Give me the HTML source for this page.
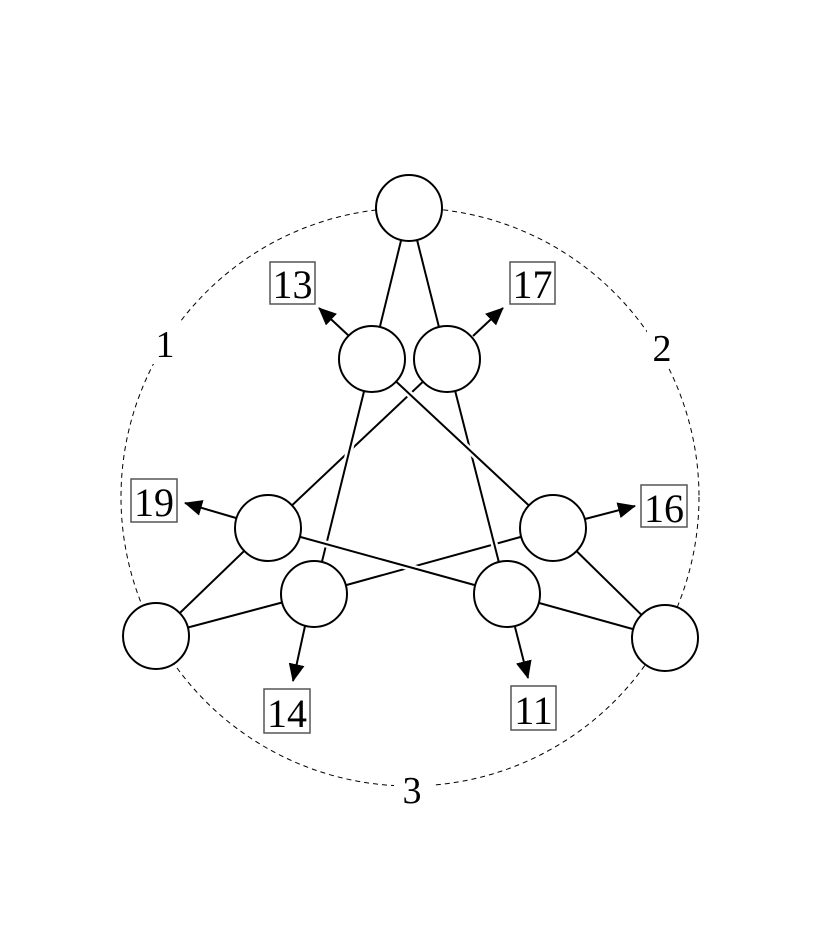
<!DOCTYPE html>
<html><head><style>body{margin:0;background:#fff}svg{display:block}</style></head><body>
<svg width="816" height="949" viewBox="0 0 816 949" xmlns="http://www.w3.org/2000/svg">
<defs><marker id="a" markerWidth="18" markerHeight="16" refX="17" refY="8" orient="auto" markerUnits="userSpaceOnUse" viewBox="0 0 18 16"><path d="M0,0 L18,8 L0,16z" fill="#000"/></marker></defs>
<circle cx="410" cy="497" r="289" fill="none" stroke="#000" stroke-width="1" stroke-dasharray="5,4"/>
<g font-family="Liberation Serif, serif" font-size="38" text-anchor="middle">
<rect x="150" y="322" width="30" height="42" fill="#fff"/><text x="165" y="357">1</text>
<rect x="647" y="326" width="30" height="42" fill="#fff"/><text x="662" y="361">2</text>
<rect x="394" y="768" width="38" height="42" fill="#fff"/><text x="412" y="803">3</text>
</g>
<g stroke-width="2" stroke-linecap="butt">
<g>
<line x1="314" y1="594" x2="553" y2="528" stroke="#fff" stroke-width="7"/><line x1="314" y1="594" x2="553" y2="528" stroke="#000"/>
<line x1="447" y1="359" x2="268" y2="528" stroke="#fff" stroke-width="7"/><line x1="447" y1="359" x2="268" y2="528" stroke="#000"/>
<line x1="372" y1="359" x2="314" y2="594" stroke="#fff" stroke-width="7"/><line x1="372" y1="359" x2="314" y2="594" stroke="#000"/>
<line x1="447" y1="359" x2="507" y2="594" stroke="#fff" stroke-width="7"/><line x1="447" y1="359" x2="507" y2="594" stroke="#000"/>
<line x1="268" y1="528" x2="507" y2="594" stroke="#fff" stroke-width="7"/><line x1="268" y1="528" x2="507" y2="594" stroke="#000"/>
<line x1="372" y1="359" x2="553" y2="528" stroke="#fff" stroke-width="7"/><line x1="372" y1="359" x2="553" y2="528" stroke="#000"/>
</g>
<g stroke="#000">
<line x1="409" y1="208" x2="372" y2="359"/><line x1="409" y1="208" x2="447" y2="359"/>
<line x1="268" y1="528" x2="156" y2="636"/><line x1="314" y1="594" x2="156" y2="636"/>
<line x1="553" y1="528" x2="665" y2="638"/><line x1="507" y1="594" x2="665" y2="638"/>
<line x1="349" y1="336" x2="319" y2="308" marker-end="url(#a)"/>
<line x1="473" y1="336" x2="503" y2="308" marker-end="url(#a)"/>
<line x1="236" y1="518" x2="185" y2="503" marker-end="url(#a)"/>
<line x1="585" y1="519" x2="635" y2="506" marker-end="url(#a)"/>
<line x1="305" y1="626" x2="293" y2="681" marker-end="url(#a)"/>
<line x1="515" y1="627" x2="528" y2="678" marker-end="url(#a)"/>
</g>
</g>
<g fill="#fff" stroke="#000" stroke-width="2">
<circle cx="409" cy="208" r="33"/><circle cx="372" cy="359" r="33"/><circle cx="447" cy="359" r="33"/>
<circle cx="268" cy="528" r="33"/><circle cx="553" cy="528" r="33"/><circle cx="314" cy="594" r="33"/>
<circle cx="507" cy="594" r="33"/><circle cx="156" cy="636" r="33"/><circle cx="665" cy="638" r="33"/>
</g>
<g fill="none" stroke="#555" stroke-width="1.5">
<rect x="270" y="262" width="45" height="42"/><rect x="510" y="262" width="45" height="42"/>
<rect x="131" y="479" width="46" height="43"/><rect x="641" y="485" width="46" height="42"/>
<rect x="264" y="689" width="46" height="44"/><rect x="511" y="686" width="45" height="44"/>
</g>
<g font-family="Liberation Serif, serif" font-size="40" text-anchor="middle">
<text x="292.5" y="298">13</text><text x="532.5" y="298">17</text>
<text x="154" y="516">19</text><text x="664" y="522">16</text>
<text x="287" y="727">14</text><text x="533.5" y="724">11</text>
</g>
</svg>
</body></html>
